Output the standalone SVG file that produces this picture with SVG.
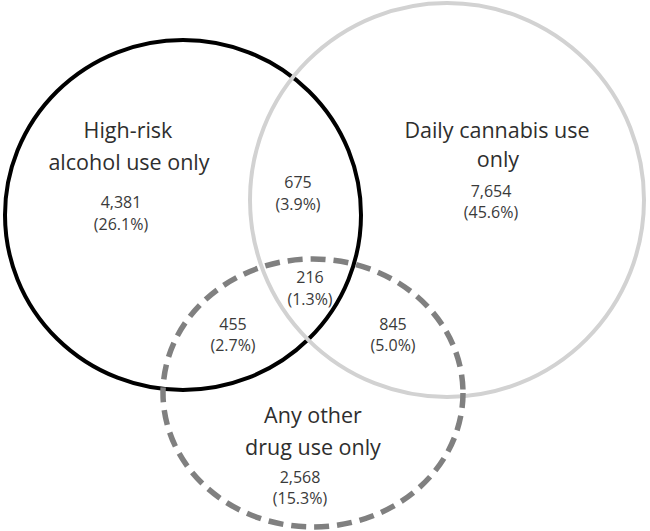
<svg xmlns="http://www.w3.org/2000/svg" width="650" height="531" viewBox="0 0 650 531">
<style>
.t{font-family:"Open Sans",Lato,"Liberation Sans",sans-serif;font-size:21.5px;fill:#2e2e2e;text-anchor:middle}
.n{font-family:"Open Sans",Lato,"Liberation Sans",sans-serif;font-size:16px;fill:#3a3a3a;text-anchor:middle}
</style>
<rect width="650" height="531" fill="#fff"/>
<g id="connectors"></g>
<g id="alcohol">
<ellipse cx="183" cy="215" rx="178" ry="175" fill="none" stroke="#000" stroke-width="4"/>
</g>
<g id="cannabis">
<ellipse cx="447" cy="200" rx="197" ry="197" fill="none" stroke="#d2d2d2" stroke-width="4"/>
</g>
<g id="otherdrug">
<ellipse cx="313" cy="393" rx="150" ry="134" fill="none" stroke="#808080" stroke-width="5.5" stroke-dasharray="15 8"/>
</g>
<g id="labels">
<text class="t" x="128" y="138">High-risk</text>
<text class="t" x="129" y="170">alcohol use only</text>
<text class="n" x="121" y="208">4,381</text>
<text class="n" x="121" y="230">(26.1%)</text>
<text class="n" x="298" y="188">675</text>
<text class="n" x="298" y="210">(3.9%)</text>
<text class="t" x="497" y="138">Daily cannabis use</text>
<text class="t" x="498" y="167">only</text>
<text class="n" x="491" y="197">7,654</text>
<text class="n" x="491" y="218">(45.6%)</text>
<text class="n" x="310" y="283">216</text>
<text class="n" x="310" y="305">(1.3%)</text>
<text class="n" x="233" y="330">455</text>
<text class="n" x="233" y="351">(2.7%)</text>
<text class="n" x="393" y="330">845</text>
<text class="n" x="393" y="351">(5.0%)</text>
<text class="t" x="313" y="423">Any other</text>
<text class="t" x="313" y="455">drug use only</text>
<text class="n" x="300" y="483">2,568</text>
<text class="n" x="300" y="504">(15.3%)</text>
</g>
</svg>
